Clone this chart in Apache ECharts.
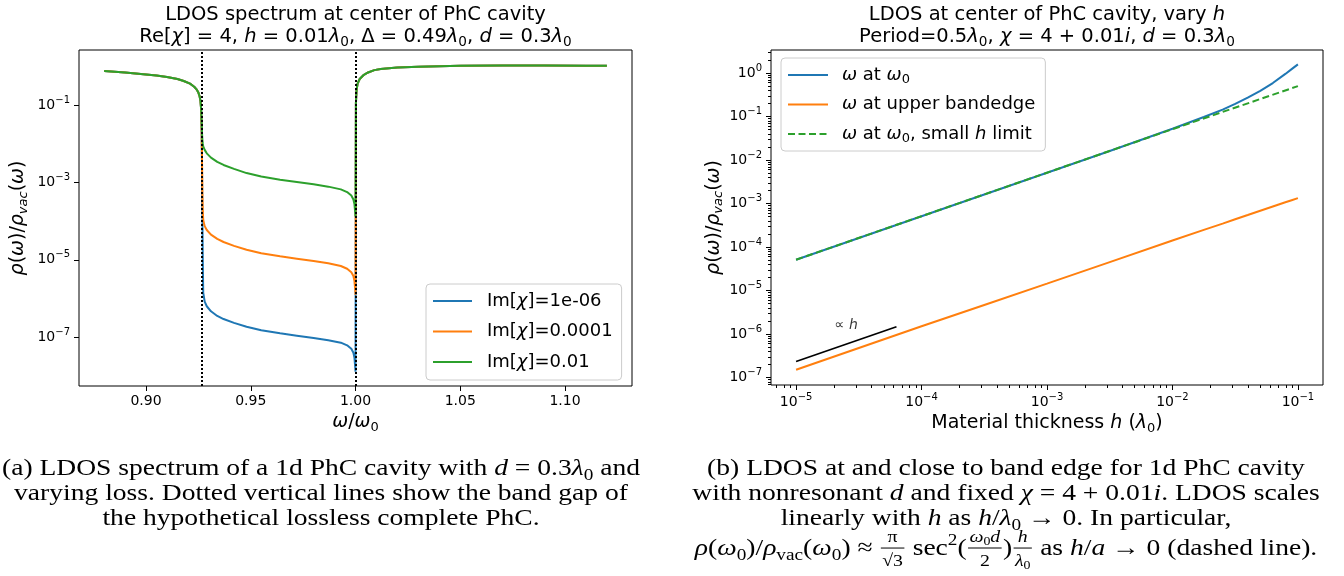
<!DOCTYPE html>
<html><head><meta charset="utf-8">
<script src="https://cdn.jsdelivr.net/npm/echarts@6/dist/echarts.min.js"></script>
<style>html,body{margin:0;padding:0;background:#fff}#c{width:1344px;height:576px}</style>
</head><body><div id="c"></div>
<script>
// ---------- Left panel data: LDOS spectrum (log10 of rho/rho_vac) ----------
const omegaRatio = [0.880,0.890,0.900,0.905,0.910,0.915,0.918,0.921,0.923,0.924,0.925,0.9256,0.9260,0.9263,0.9265,0.9267,0.9269,0.9271,0.9273,0.928,0.929,0.931,0.934,0.937,0.942,0.948,0.955,0.964,0.972,0.980,0.987,0.993,0.996,0.998,0.999,0.9995,0.9999,1.0000,1.0002,1.0005,1.001,1.002,1.004,1.006,1.009,1.012,1.02,1.03,1.05,1.07,1.09,1.11,1.12];
const logLdosIm1e6 = [-0.12,-0.16,-0.21,-0.24,-0.28,-0.33,-0.38,-0.45,-0.53,-0.59,-0.68,-0.78,-0.90,-1.10,-1.50,-2.40,-3.80,-5.00,-5.85,-6.08,-6.20,-6.33,-6.45,-6.53,-6.63,-6.73,-6.82,-6.90,-6.96,-7.02,-7.08,-7.14,-7.21,-7.30,-7.40,-7.53,-7.80,-7.89,-0.95,-0.62,-0.45,-0.33,-0.22,-0.16,-0.10,-0.07,-0.03,-0.01,0.01,0.02,0.02,0.01,0.01];
const logLdosIm1e4 = [-0.12,-0.16,-0.21,-0.24,-0.28,-0.33,-0.38,-0.45,-0.53,-0.59,-0.68,-0.78,-0.90,-1.10,-1.50,-2.30,-3.30,-3.75,-3.97,-4.13,-4.23,-4.35,-4.46,-4.54,-4.64,-4.74,-4.83,-4.91,-4.97,-5.03,-5.09,-5.16,-5.23,-5.32,-5.42,-5.55,-5.80,-5.90,-0.95,-0.62,-0.45,-0.33,-0.22,-0.16,-0.10,-0.07,-0.03,-0.01,0.01,0.02,0.02,0.01,0.01];
const logLdosIm1e2 = [-0.12,-0.16,-0.21,-0.24,-0.28,-0.33,-0.38,-0.45,-0.53,-0.59,-0.68,-0.78,-0.90,-1.10,-1.40,-1.70,-1.90,-2.00,-2.07,-2.16,-2.25,-2.36,-2.47,-2.55,-2.65,-2.76,-2.85,-2.93,-2.99,-3.05,-3.11,-3.18,-3.25,-3.34,-3.44,-3.56,-3.80,-3.88,-0.95,-0.62,-0.45,-0.33,-0.22,-0.16,-0.10,-0.07,-0.03,-0.01,0.01,0.02,0.02,0.01,0.01];
const bandEdges = [0.9265, 1.0];
const leftSeriesNames = ['Im[χ]=1e-06', 'Im[χ]=0.0001', 'Im[χ]=0.01'];
const leftXTicks = [0.90, 0.95, 1.00, 1.05, 1.10];
const leftYTicks = [-7, -5, -3, -1];   // exponents of 10

// ---------- Right panel data: LDOS vs thickness (log10 values) ----------
const log10Thickness = [-5, -4.5, -4, -3.5, -3, -2.5, -2, -1.75, -1.6, -1.5, -1.4, -1.3, -1.2, -1.1, -1.05, -1];
const logLdosAtOmega0 = [-4.29, -3.79, -3.29, -2.79, -2.29, -1.79, -1.28, -1.01, -0.84, -0.71, -0.565, -0.41, -0.23, -0.02, 0.09, 0.20];
const logLdosUpperEdge = [-6.82, -6.32, -5.82, -5.33, -4.84, -4.345, -3.85, -3.605, -3.46, -3.36, -3.263, -3.165, -3.068, -2.97, -2.922, -2.875];
const log10ThicknessLimit = [-5, -4, -3, -2, -1];
const logLdosSmallH = [-4.29, -3.29, -2.29, -1.29, -0.30];
const propLineX = [-5, -4.2];
const propLineY = [-6.63, -5.83];
const propLabelAt = [-4.6, -5.79];
const rightSeriesNames = ['ω at ω0', 'ω at upper bandedge', 'ω at ω0, small h limit'];
const rightXTicks = [-5, -4, -3, -2, -1];
const rightYTicks = [-7, -6, -5, -4, -3, -2, -1, 0];

// ---------- styling ----------
const C = ['#1f77b4', '#ff7f0e', '#2ca02c'];
const SANS = 'DejaVu Sans';
const SERIF = 'Liberation Serif';
const LX = [0.868, 1.132], LY = [-8.26, 0.42];
const RX = [-5.2, -0.8], RY = [-7.17, 0.53];

function minorTicks(range) {
  const out = [];
  for (let n = Math.floor(range[0]) - 1; n <= Math.ceil(range[1]); n++)
    for (let k = 2; k <= 9; k++) { const v = n + Math.log10(k); if (v > range[0] && v < range[1]) out.push(v); }
  return out;
}
const expLabel = v => '{b|10}{p|' + (v < 0 ? '\u2212' + Math.abs(v) : String(v)) + '}';
const tickRich = {
  b: { fontFamily: SANS, fontSize: 14, color: '#000', lineHeight: 20 },
  p: { fontFamily: SANS, fontSize: 10, color: '#000', lineHeight: 10, verticalAlign: 'top' }
};
const mathRich = (fs) => ({
  n: { fontFamily: SANS, fontSize: fs, color: '#000', lineHeight: fs + 4 },
  i: { fontFamily: SANS, fontSize: fs, fontStyle: 'italic', color: '#000', lineHeight: fs + 4 },
  s: { fontFamily: SANS, fontSize: Math.round(fs * 0.7), color: '#000', lineHeight: Math.round(fs * 0.55), verticalAlign: 'bottom' },
  si: { fontFamily: SANS, fontSize: Math.round(fs * 0.7), fontStyle: 'italic', color: '#000', lineHeight: Math.round(fs * 0.55), verticalAlign: 'bottom' }
});
const tickStyle = (len) => ({ length: len, lineStyle: { color: '#000', width: 1 } });
const hiddenLine = { show: false, onZero: false };

const legendRich = {
  'Im[χ]=1e-06': '{n|Im[}{i|χ}{n|]=1e-06}',
  'Im[χ]=0.0001': '{n|Im[}{i|χ}{n|]=0.0001}',
  'Im[χ]=0.01': '{n|Im[}{i|χ}{n|]=0.01}',
  'ω at ω0': '{i|ω}{n| at }{i|ω}{s|0}',
  'ω at upper bandedge': '{i|ω}{n| at upper bandedge}',
  'ω at ω0, small h limit': '{i|ω}{n| at }{i|ω}{s|0}{n|, small }{i|h}{n| limit}'
};
const zip = (xs, ys) => xs.map((x, i) => [x, ys[i]]);

// ---------- text layout helpers for titles / captions ----------
const mctx = document.createElement('canvas').getContext('2d');
function fontStr(st, size, fam) { return (st === 'i' ? 'italic ' : '') + size + "px '" + fam + "'"; }
function measure(t, f) { mctx.font = f; return mctx.measureText(t).width; }
// pieces: [style, text] with style n|i|s(sub)|p(sup), or {num:[...], den:[...]}
function layoutLine(pieces, cx, cy, F, fam) {
  const items = [];
  function runWidth(list, size) {
    let w = 0;
    list.forEach(([st, t]) => {
      const sz = (st === 's' || st === 'p') ? size * 0.7 : size;
      w += measure(t, fontStr(st === 'i' ? 'i' : 'n', sz, fam));
    });
    return w;
  }
  function placeRun(list, size, x0, y0) {
    let xx = x0;
    list.forEach(([st, t]) => {
      let sz = size, off = 0;
      if (st === 's') { sz = size * 0.7; off = size * 0.28; }
      if (st === 'p') { sz = size * 0.7; off = -size * 0.36; }
      const f = fontStr(st === 'i' ? 'i' : 'n', sz, fam);
      items.push({ type: 'text', x: xx, y: y0 + off, silent: true,
        style: { text: t, font: f, fill: '#000', align: 'left', verticalAlign: 'middle', textAlign: 'left', textVerticalAlign: 'middle' } });
      xx += measure(t, f);
    });
    return xx - x0;
  }
  const widths = pieces.map(p => {
    if (Array.isArray(p)) return runWidth([p], F);
    const fs = F * 0.72;
    return Math.max(runWidth(p.num, fs), runWidth(p.den, fs)) + F * 0.2;
  });
  const total = widths.reduce((a, b) => a + b, 0);
  let x = cx - total / 2;
  pieces.forEach((p, k) => {
    if (Array.isArray(p)) { placeRun([p], F, x, cy); }
    else {
      const fs = F * 0.72, wk = widths[k];
      const wn = runWidth(p.num, fs), wd = runWidth(p.den, fs);
      placeRun(p.num, fs, x + (wk - wn) / 2, cy - F * 0.48);
      placeRun(p.den, fs, x + (wk - wd) / 2, cy + F * 0.52);
      items.push({ type: 'line', silent: true, shape: { x1: x + F * 0.05, y1: cy - F * 0.04, x2: x + wk - F * 0.05, y2: cy - F * 0.04 }, style: { stroke: '#000', lineWidth: 1 } });
    }
    x += widths[k];
  });
  items.total = total;
  return items;
}
function parseRich(str) {
  const out = []; const re = /\{(\w+)\|([^}]*)\}|([^{]+)/g; let m;
  while ((m = re.exec(str))) { if (m[3] !== undefined) out.push(['n', m[3]]); else out.push([m[1], m[2]]); }
  return out;
}

const graphics = [];
// Titles
[[355.5, 'LDOS spectrum at center of PhC cavity', 'Re[{i|χ}] = 4, {i|h} = 0.01{i|λ}{s|0}, Δ = 0.49{i|λ}{s|0}, {i|d} = 0.3{i|λ}{s|0}'],
 [1047, 'LDOS at center of PhC cavity, vary {i|h}', 'Period=0.5{i|λ}{s|0}, {i|χ} = 4 + 0.01{i|i}, {i|d} = 0.3{i|λ}{s|0}']]
  .forEach(([cx, l1, l2]) => {
    graphics.push(...layoutLine(parseRich(l1), cx, 15, 19.5, SANS));
    graphics.push(...layoutLine(parseRich(l2), cx, 37, 19.5, SANS));
  });
// Captions (LaTeX-like serif, horizontally stretched to Computer Modern width)
const capF = 24;
const captionA = ['(a) LDOS spectrum of a 1d PhC cavity with {i|d} = 0.3{i|λ}{s|0} and',
  'varying loss. Dotted vertical lines show the band gap of',
  'the hypothetical lossless complete PhC.'];
const captionB = ['(b) LDOS at and close to band edge for 1d PhC cavity',
  'with nonresonant {i|d} and fixed {i|χ} = 4 + 0.01{i|i}. LDOS scales',
  'linearly with {i|h} as {i|h}/{i|λ}{s|0} → 0. In particular,'];
const formula = [['i', 'ρ'], ['n', '('], ['i', 'ω'], ['s', '0'], ['n', ')/'], ['i', 'ρ'], ['s', 'vac'], ['n', '('], ['i', 'ω'], ['s', '0'], ['n', ') ≈ '],
  { num: [['n', 'π']], den: [['n', '√3']] }, ['n', ' sec'], ['p', '2'], ['n', '('],
  { num: [['i', 'ω'], ['s', '0'], ['i', 'd']], den: [['n', '2']] }, ['n', ')'],
  { num: [['i', 'h']], den: [['i', 'λ'], ['s', '0']] },
  ['n', ' as '], ['i', 'h'], ['n', '/'], ['i', 'a'], ['n', ' → 0 (dashed line).']];
const capA = captionA.map((l, k) => layoutLine(parseRich(l), 0, 469 + 25 * k, capF, SERIF));
const capB = captionB.map((l, k) => layoutLine(parseRich(l), 0, 469 + 25 * k, capF, SERIF));
capB.push(layoutLine(formula, 0, 549, capF, SERIF));
const capScale = 638 / capA[0].total;
graphics.push({ type: 'group', x: 321, y: 0, scaleX: capScale, children: [].concat(...capA) });
graphics.push({ type: 'group', x: 1006, y: 0, scaleX: capScale, children: [].concat(...capB) });

// ---------- chart ----------
const chart = echarts.init(document.getElementById('c'), null, { renderer: 'canvas' });
const axisNameStyle = { fontFamily: SANS, fontSize: 19, color: '#000', rich: mathRich(19) };
const legendCommon = {
  orient: 'vertical', itemHeight: 14, backgroundColor: 'rgba(255,255,255,0.8)', borderColor: '#cccccc', borderWidth: 1, borderRadius: 4,
  selectedMode: false, formatter: n => legendRich[n], itemStyle: { opacity: 0 }
};
const option = {
  animation: false,
  backgroundColor: '#fff',
  grid: [
    { left: 79, top: 50, width: 553, height: 336, show: true, borderColor: '#000', borderWidth: 1, containLabel: false, outerBoundsMode: 'none' },
    { left: 771, top: 50, width: 552, height: 335, show: true, borderColor: '#000', borderWidth: 1, containLabel: false, outerBoundsMode: 'none' }
  ],
  xAxis: [
    { gridIndex: 0, type: 'value', position: 'bottom', min: LX[0], max: LX[1],
      axisLine: hiddenLine, splitLine: { show: false },
      axisTick: Object.assign({ customValues: leftXTicks }, tickStyle(5)),
      axisLabel: { customValues: leftXTicks, formatter: v => v.toFixed(2), fontFamily: SANS, fontSize: 14, color: '#000', margin: 8 },
      name: '{i|ω}{n|/}{i|ω}{s|0}', nameLocation: 'middle', nameGap: 25, nameTextStyle: axisNameStyle },
    { gridIndex: 1, type: 'value', position: 'bottom', min: RX[0], max: RX[1],
      axisLine: hiddenLine, splitLine: { show: false },
      axisTick: Object.assign({ customValues: rightXTicks }, tickStyle(5)),
      axisLabel: { customValues: rightXTicks, formatter: expLabel, rich: tickRich, margin: 7 },
      name: '{n|Material thickness }{i|h}{n| (}{i|λ}{s|0}{n|)}', nameLocation: 'middle', nameGap: 26, nameTextStyle: axisNameStyle },
    { gridIndex: 1, type: 'value', position: 'bottom', min: RX[0], max: RX[1],
      axisLine: hiddenLine, splitLine: { show: false }, axisLabel: { show: false },
      axisTick: Object.assign({ customValues: minorTicks(RX) }, tickStyle(3)) }
  ],
  yAxis: [
    { gridIndex: 0, type: 'value', position: 'left', min: LY[0], max: LY[1],
      axisLine: hiddenLine, splitLine: { show: false },
      axisTick: Object.assign({ customValues: leftYTicks }, tickStyle(5)),
      axisLabel: { customValues: leftYTicks, formatter: expLabel, rich: tickRich, margin: 9 },
      name: '{i|ρ}{n|(}{i|ω}{n|)/}{i|ρ}{si|vac}{n|(}{i|ω}{n|)}', nameLocation: 'middle', nameRotate: 90, nameGap: 49, nameTextStyle: axisNameStyle },
    { gridIndex: 1, type: 'value', position: 'left', min: RY[0], max: RY[1],
      axisLine: hiddenLine, splitLine: { show: false },
      axisTick: Object.assign({ customValues: rightYTicks }, tickStyle(5)),
      axisLabel: { customValues: rightYTicks, formatter: expLabel, rich: tickRich, margin: 9 },
      name: '{i|ρ}{n|(}{i|ω}{n|)/}{i|ρ}{si|vac}{n|(}{i|ω}{n|)}', nameLocation: 'middle', nameRotate: 90, nameGap: 45, nameTextStyle: axisNameStyle },
    { gridIndex: 1, type: 'value', position: 'left', min: RY[0], max: RY[1],
      axisLine: hiddenLine, splitLine: { show: false }, axisLabel: { show: false },
      axisTick: Object.assign({ customValues: minorTicks(RY) }, tickStyle(3)) }
  ],
  legend: [
    Object.assign({}, legendCommon, { data: leftSeriesNames, left: 426, top: 284, itemWidth: 39, itemGap: 8.5, padding: [6, 9, 7, 6],
      textStyle: { fontFamily: SANS, fontSize: 18, color: '#000', lineHeight: 20, padding: [0, 0, 0, 10], rich: mathRich(18) } }),
    Object.assign({}, legendCommon, { data: rightSeriesNames, left: 781, top: 58, itemWidth: 40, itemGap: 7.5, padding: [6, 10, 6, 6],
      textStyle: { fontFamily: SANS, fontSize: 18, color: '#000', lineHeight: 20, padding: [0, 0, 0, 9], rich: mathRich(18) } })
  ],
  series: [
    { name: leftSeriesNames[0], type: 'line', xAxisIndex: 0, yAxisIndex: 0, symbol: 'none', data: zip(omegaRatio, logLdosIm1e6), lineStyle: { color: C[0], width: 2 }, itemStyle: { color: C[0] }, z: 2 },
    { name: leftSeriesNames[1], type: 'line', xAxisIndex: 0, yAxisIndex: 0, symbol: 'none', data: zip(omegaRatio, logLdosIm1e4), lineStyle: { color: C[1], width: 2 }, itemStyle: { color: C[1] }, z: 2 },
    { name: leftSeriesNames[2], type: 'line', xAxisIndex: 0, yAxisIndex: 0, symbol: 'none', data: zip(omegaRatio, logLdosIm1e2), lineStyle: { color: C[2], width: 2 }, itemStyle: { color: C[2] }, z: 2 },
    { name: 'band edges', type: 'line', xAxisIndex: 0, yAxisIndex: 0, symbol: 'none', data: [], z: 5,
      markLine: { silent: true, symbol: 'none', precision: 6, label: { show: false }, lineStyle: { color: '#000', width: 2, type: [2, 2] },
        data: bandEdges.map(x => ({ xAxis: x })) } },
    { name: rightSeriesNames[0], type: 'line', xAxisIndex: 1, yAxisIndex: 1, symbol: 'none', data: zip(log10Thickness, logLdosAtOmega0), lineStyle: { color: C[0], width: 2 }, itemStyle: { color: C[0] } },
    { name: rightSeriesNames[1], type: 'line', xAxisIndex: 1, yAxisIndex: 1, symbol: 'none', data: zip(log10Thickness, logLdosUpperEdge), lineStyle: { color: C[1], width: 2 }, itemStyle: { color: C[1] } },
    { name: rightSeriesNames[2], type: 'line', xAxisIndex: 1, yAxisIndex: 1, symbol: 'none', data: zip(log10ThicknessLimit, logLdosSmallH), lineStyle: { color: C[2], width: 2, type: [7, 3.5] }, itemStyle: { color: C[2] }, z: 3 },
    { name: 'proportional', type: 'line', xAxisIndex: 1, yAxisIndex: 1, symbol: 'none', data: zip(propLineX, propLineY), lineStyle: { color: '#000', width: 1.7 } },
    { name: 'propLabel', type: 'scatter', xAxisIndex: 1, yAxisIndex: 1, symbolSize: 0, data: [propLabelAt], silent: true,
      label: { show: true, position: 'inside', formatter: '{n|∝ }{i|h}', rich: mathRich(14) } }
  ],
  graphic: graphics
};
chart.setOption(option);
</script></body></html>
